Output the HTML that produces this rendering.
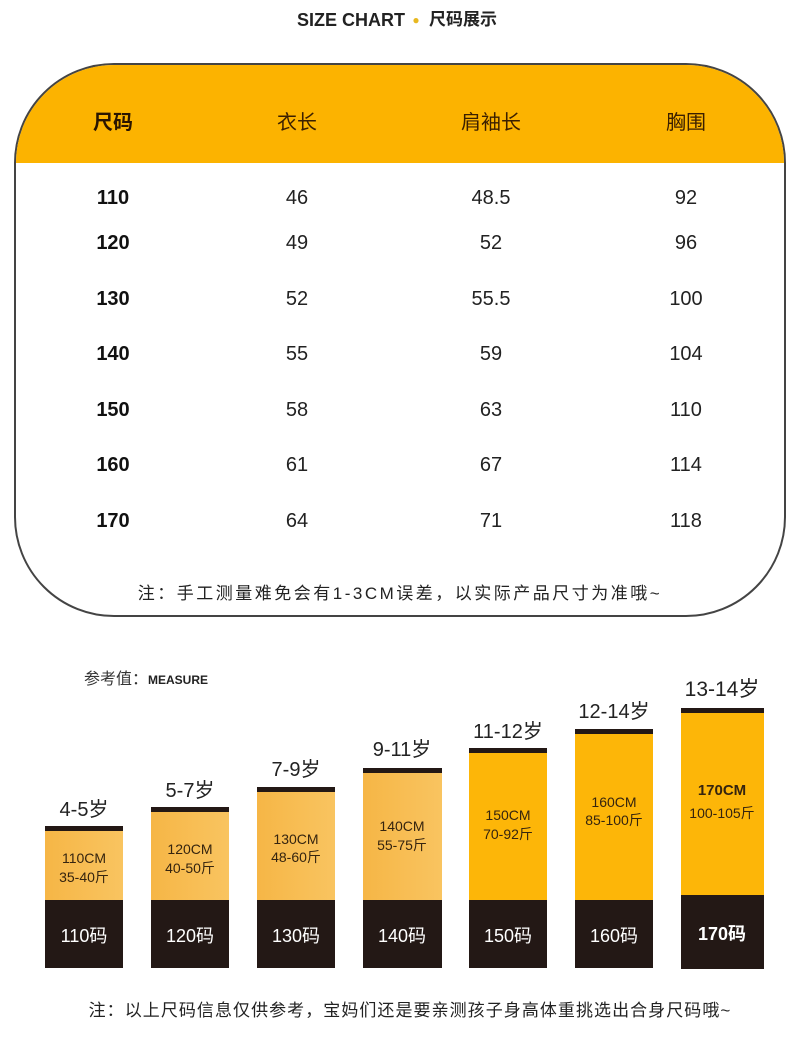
<!DOCTYPE html>
<html><head><meta charset="utf-8">
<style>
*{margin:0;padding:0;box-sizing:border-box}
body{width:800px;height:1039px;background:#fff;position:relative;overflow:hidden;font-family:"Liberation Sans","Noto Sans CJK SC",sans-serif}
.t{position:absolute;white-space:nowrap;text-align:center}
.box{position:absolute;left:14px;top:63px;width:772px;height:554px;border:2px solid #444;border-radius:100px;overflow:hidden;background:#fff}
.hdr{position:absolute;left:0;top:0;width:100%;height:98px;background:#fcb300}
.h{color:#3a1f00;font-size:20px;width:160px;height:24px;line-height:24px}
.v{color:#222;font-size:20px;width:160px;height:24px;line-height:24px}
.b{font-weight:bold;color:#111}
.cap{position:absolute;height:5px;background:#231815}
.yl{position:absolute}
.bk{position:absolute;background:#231815}
.g{background:linear-gradient(90deg,#f6b646,#f9c460)}
.s{background:#fdb608}
.in{color:#35240f;font-size:14px;height:18px;line-height:18px}
.code{color:#fff;font-size:18px;height:22px;line-height:22px}
.age{color:#222;font-size:20px;height:24px;line-height:24px}
</style></head><body>

<div class="t" style="left:297px;top:8px;width:112px;height:24px;line-height:24px;font-size:18px;font-weight:bold;color:#222;text-align:left;">SIZE CHART</div>
<div class="t" style="left:410px;top:8px;width:12px;height:24px;line-height:24px;font-size:12px;color:#e8b820">●</div>
<div class="t" style="left:429px;top:8px;width:72px;height:24px;line-height:24px;font-size:17px;font-weight:bold;color:#222;text-align:left">尺码展示</div>

<div class="box"><div class="hdr"></div></div>

<div class="t h b" style="left:33px;top:111px;color:#2a1500">尺码</div>
<div class="t h" style="left:217px;top:111px">衣长</div>
<div class="t h" style="left:411px;top:111px">肩袖长</div>
<div class="t h" style="left:606px;top:111px">胸围</div>

<div class="t v b" style="left:33px;top:186px">110</div>
<div class="t v" style="left:217px;top:186px">46</div>
<div class="t v" style="left:411px;top:186px">48.5</div>
<div class="t v" style="left:606px;top:186px">92</div>

<div class="t v b" style="left:33px;top:231px">120</div>
<div class="t v" style="left:217px;top:231px">49</div>
<div class="t v" style="left:411px;top:231px">52</div>
<div class="t v" style="left:606px;top:231px">96</div>

<div class="t v b" style="left:33px;top:287px">130</div>
<div class="t v" style="left:217px;top:287px">52</div>
<div class="t v" style="left:411px;top:287px">55.5</div>
<div class="t v" style="left:606px;top:287px">100</div>

<div class="t v b" style="left:33px;top:342px">140</div>
<div class="t v" style="left:217px;top:342px">55</div>
<div class="t v" style="left:411px;top:342px">59</div>
<div class="t v" style="left:606px;top:342px">104</div>

<div class="t v b" style="left:33px;top:398px">150</div>
<div class="t v" style="left:217px;top:398px">58</div>
<div class="t v" style="left:411px;top:398px">63</div>
<div class="t v" style="left:606px;top:398px">110</div>

<div class="t v b" style="left:33px;top:453px">160</div>
<div class="t v" style="left:217px;top:453px">61</div>
<div class="t v" style="left:411px;top:453px">67</div>
<div class="t v" style="left:606px;top:453px">114</div>

<div class="t v b" style="left:33px;top:509px">170</div>
<div class="t v" style="left:217px;top:509px">64</div>
<div class="t v" style="left:411px;top:509px">71</div>
<div class="t v" style="left:606px;top:509px">118</div>

<div class="t" style="left:100px;top:582px;width:600px;height:24px;line-height:24px;font-size:17px;letter-spacing:2.5px;color:#222">注：手工测量难免会有1-3CM误差，以实际产品尺寸为准哦~</div>

<div class="t" style="left:84px;top:669px;height:22px;line-height:22px;text-align:left;color:#333"><span style="font-size:16px">参考值：</span><span style="font-size:12px;font-weight:bold;color:#222">MEASURE</span></div>

<!-- bar 1 -->
<div class="cap" style="left:45px;top:826px;width:78px"></div>
<div class="yl g" style="left:45px;top:831px;width:78px;height:69px"></div>
<div class="bk" style="left:45px;top:900px;width:78px;height:68px"></div>
<div class="t age" style="left:34px;top:798px;width:100px">4-5岁</div>
<div class="t in" style="left:34px;top:849px;width:100px">110CM</div>
<div class="t in" style="left:34px;top:868px;width:100px">35-40斤</div>
<div class="t code" style="left:34px;top:925px;width:100px">110码</div>

<!-- bar 2 -->
<div class="cap" style="left:151px;top:807px;width:78px"></div>
<div class="yl g" style="left:151px;top:812px;width:78px;height:88px"></div>
<div class="bk" style="left:151px;top:900px;width:78px;height:68px"></div>
<div class="t age" style="left:140px;top:779px;width:100px">5-7岁</div>
<div class="t in" style="left:140px;top:840px;width:100px">120CM</div>
<div class="t in" style="left:140px;top:859px;width:100px">40-50斤</div>
<div class="t code" style="left:140px;top:925px;width:100px">120码</div>

<!-- bar 3 -->
<div class="cap" style="left:257px;top:787px;width:78px"></div>
<div class="yl g" style="left:257px;top:792px;width:78px;height:108px"></div>
<div class="bk" style="left:257px;top:900px;width:78px;height:68px"></div>
<div class="t age" style="left:246px;top:758px;width:100px">7-9岁</div>
<div class="t in" style="left:246px;top:830px;width:100px">130CM</div>
<div class="t in" style="left:246px;top:848px;width:100px">48-60斤</div>
<div class="t code" style="left:246px;top:925px;width:100px">130码</div>

<!-- bar 4 -->
<div class="cap" style="left:363px;top:768px;width:79px"></div>
<div class="yl g" style="left:363px;top:773px;width:79px;height:127px"></div>
<div class="bk" style="left:363px;top:900px;width:79px;height:68px"></div>
<div class="t age" style="left:352px;top:738px;width:100px">9-11岁</div>
<div class="t in" style="left:352px;top:817px;width:100px">140CM</div>
<div class="t in" style="left:352px;top:836px;width:100px">55-75斤</div>
<div class="t code" style="left:352px;top:925px;width:100px">140码</div>

<!-- bar 5 -->
<div class="cap" style="left:469px;top:748px;width:78px"></div>
<div class="yl s" style="left:469px;top:753px;width:78px;height:147px"></div>
<div class="bk" style="left:469px;top:900px;width:78px;height:68px"></div>
<div class="t age" style="left:458px;top:720px;width:100px">11-12岁</div>
<div class="t in" style="left:458px;top:806px;width:100px">150CM</div>
<div class="t in" style="left:458px;top:825px;width:100px">70-92斤</div>
<div class="t code" style="left:458px;top:925px;width:100px">150码</div>

<!-- bar 6 -->
<div class="cap" style="left:575px;top:729px;width:78px"></div>
<div class="yl s" style="left:575px;top:734px;width:78px;height:166px"></div>
<div class="bk" style="left:575px;top:900px;width:78px;height:68px"></div>
<div class="t age" style="left:564px;top:700px;width:100px">12-14岁</div>
<div class="t in" style="left:564px;top:793px;width:100px">160CM</div>
<div class="t in" style="left:564px;top:811px;width:100px">85-100斤</div>
<div class="t code" style="left:564px;top:925px;width:100px">160码</div>

<!-- bar 7 -->
<div class="cap" style="left:681px;top:708px;width:83px"></div>
<div class="yl s" style="left:681px;top:713px;width:83px;height:182px"></div>
<div class="bk" style="left:681px;top:895px;width:83px;height:74px"></div>
<div class="t age" style="left:672px;top:678px;width:100px;font-size:21px">13-14岁</div>
<div class="t in" style="left:672px;top:782px;width:100px;font-size:15px;font-weight:bold">170CM</div>
<div class="t in" style="left:672px;top:804px;width:100px">100-105斤</div>
<div class="t code" style="left:672px;top:923px;width:100px;font-weight:bold">170码</div>

<div class="t" style="left:50px;top:999px;width:720px;height:24px;line-height:24px;font-size:17px;letter-spacing:1.05px;color:#222">注：以上尺码信息仅供参考，宝妈们还是要亲测孩子身高体重挑选出合身尺码哦~</div>

</body></html>
